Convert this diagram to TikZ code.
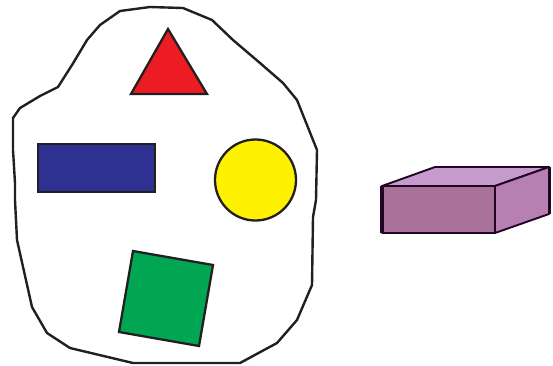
\documentclass[tikz,border=0pt]{standalone}
\usetikzlibrary{calc}
\definecolor{olc}{RGB}{35,31,32}
\definecolor{redf}{RGB}{237,28,36}
\definecolor{bluef}{RGB}{46,49,146}
\definecolor{yelf}{RGB}{255,242,0}
\definecolor{grnf}{RGB}{0,166,81}
\definecolor{boxfront}{RGB}{168,114,155}
\definecolor{boxtop}{RGB}{196,155,204}
\definecolor{boxright}{RGB}{183,128,178}
\definecolor{boxline}{RGB}{35,5,35}
\begin{document}
\begin{tikzpicture}[x=1pt,y=-1pt,
  figshape/.style={draw=olc,line width=2.3pt,line join=miter},
  blob/.style={draw=olc,line width=2.4pt,fill=white,line join=round},
  boxface/.style={draw=boxline,line width=1.9pt,line join=round}]
\useasboundingbox (0,0) rectangle (553,365);
% enclosing outline
\draw[blob] (13,118) -- (20,108) -- (40,96) -- (58,87) -- (72,65) -- (87,40) -- (100,25) -- (120,11) -- (150,7) -- (183,8) -- (212,20) -- (233,40) -- (260,63) -- (283,83) -- (297,100) -- (317,150) -- (316,200) -- (313,217) -- (312,285) -- (297,320) -- (277,343) -- (240,363) -- (133,363) -- (70,348) -- (47,333) -- (32,307) -- (17,240) -- (15,200) -- (15,183) -- (13,150) -- cycle;
% triangle
\draw[figshape,fill=redf] (168,29) -- (207,94) -- (131,94) -- cycle;
% blue rectangle
\draw[figshape,fill=bluef] (38,144) rectangle (155,192);
% yellow circle
\draw[figshape,fill=yelf] (255.5,180) circle[radius=40.5];
% green square
\draw[figshape,fill=grnf] (133,251) -- (213,265) -- (199,346) -- (119,332) -- cycle;
% 3D box
\coordinate (fa) at (382,186);
\coordinate (fb) at (495,186);
\coordinate (fc) at (495,233);
\coordinate (fd) at (382,233);
\coordinate (ta) at (435,167);
\coordinate (tb) at (549,167);
\coordinate (tc) at (549,214);
\draw[boxface,fill=boxtop] (fa) -- (ta) -- (tb) -- (fb) -- cycle;
\draw[boxface,fill=boxright] (fb) -- (tb) -- (tc) -- (fc) -- cycle;
\draw[boxface,fill=boxfront] (fa) -- (fb) -- (fc) -- (fd) -- cycle;
\draw[draw=boxline,line width=3.6pt] (fa) -- (fd);
\draw[draw=boxline,line width=3pt] (tb) -- (tc);
\end{tikzpicture}
\end{document}
